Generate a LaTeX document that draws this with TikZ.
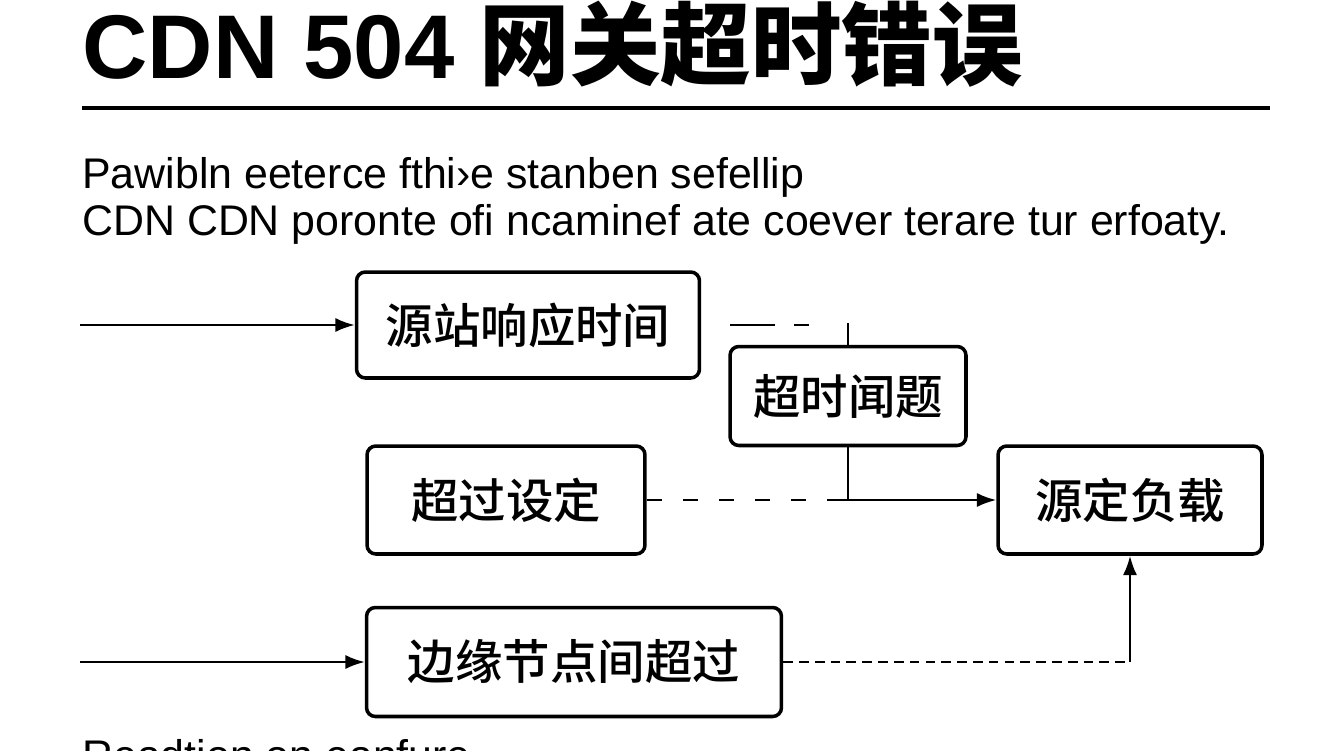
\documentclass[tikz,border=0pt]{standalone}
\usepackage{fontspec}
\setmainfont{Liberation Sans}
\newfontfamily\cjk{Noto Sans CJK SC Medium}
\newfontfamily\cjkbold{Noto Sans CJK SC Bold}
\usetikzlibrary{arrows.meta}
\begin{document}
\begin{tikzpicture}
[x=0.02cm,y=-0.02cm,%
  boxDecorate/.style={shape=rectangle,draw,line width=2pt,rounded corners=5pt,inner sep=0pt,font=\cjk\fontsize{27}{27}\selectfont},%
  textDecorate/.style={anchor=base west,inner sep=0pt,font=\fontsize{24.4}{25}\selectfont},%
  lineDecorate/.style={line width=1.3pt},%
  arrowDecorate/.style={lineDecorate,-{Latex[length=11pt,width=8pt]}}]
\useasboundingbox (0,0) rectangle (1344,750);
\fill[white] (0,0) rectangle (1344,750);
%% heading and text lines
\node (title) at (82,79) [anchor=base west,inner sep=0pt,font=\bfseries\fontsize{51.5}{52}\selectfont] {CDN 504 {\cjkbold 网关超时错误}};
\draw[line width=2pt] (82,108) -- (1270,108);
\node (lineA) at (82,188) [textDecorate] {Pawibln eeterce fthi›e stanben sefellip};
\node (lineB) at (82,235) [textDecorate] {CDN CDN poronte ofi ncaminef ate coever terare tur erfoaty.};
\node (lineC) at (82,770) [textDecorate] {Readtion on eanfure};
%% boxes
\foreach \boxname/\x/\y/\w/\h/\boxtext in {
  resp/528/325/6.86/2.12/源站响应时间, issue/848/396/4.72/1.98/超时闻题,
  setting/506/500/5.56/2.16/超过设定, load/1130/500/5.28/2.16/源定负载,
  edge/574/662/8.3/2.18/边缘节点间超过}
{
  \node (\boxname) at (\x,\y) [boxDecorate,minimum width=\w cm,minimum height=\h cm] {\boxtext};
}
%% free ends
\coordinate (inTop) at (80,325);
\coordinate (inBot) at (80,662);
\coordinate (dashTop) at (730,325);
\coordinate (dashTopEnd) at (810,325);
\coordinate (stubTop) at (848,323);
\coordinate (joint) at (828,500);
\coordinate (corner) at (1130,662);
%% connectors
\draw[arrowDecorate] (inTop) -- (resp.west);
\draw[arrowDecorate] (inBot) -- (edge.west);
\draw[lineDecorate,dash pattern=on 25.5pt off 11pt on 8.5pt off 5pt] (dashTop) -- (dashTopEnd);
\draw[lineDecorate] (stubTop) -- (issue.north);
\draw[lineDecorate] (issue.south) -- (issue.south |- joint);
\draw[lineDecorate,dash pattern=on 8.5pt off 12pt] (setting.east) -- (joint);
\draw[arrowDecorate] (joint) -- (load.west);
\draw[lineDecorate,dash pattern=on 5.5pt off 3.5pt] (edge.east) -- (corner);
\draw[arrowDecorate] (corner) -- (load.south);
\end{tikzpicture}
\end{document}
